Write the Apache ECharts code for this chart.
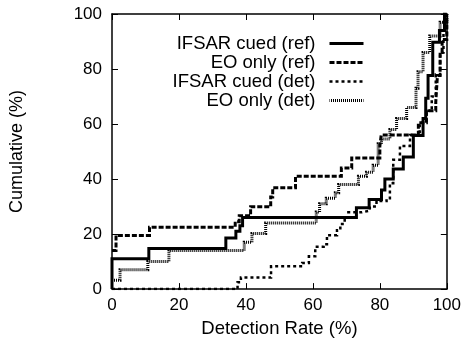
<!DOCTYPE html>
<html>
<head>
<meta charset="utf-8">
<script src="https://cdn.jsdelivr.net/npm/echarts@6/dist/echarts.min.js"></script>
<style>
html,body{margin:0;padding:0;background:#fff;}
#chart{width:464px;height:343px;}
</style>
</head>
<body>
<div id="chart"></div>
<script>
// Data (x = detection rate %, y = cumulative %)
var seriesNames = ['IFSAR cued (ref)', 'EO only (ref)', 'IFSAR cued (det)', 'EO only (det)'];
var xTicks = [0, 20, 40, 60, 80, 100];
var yTicks = [0, 20, 40, 60, 80, 100];

var ifsarRef = [[0,0],[0,11],[11,14.8],[34,18.6],[37,21],[38.2,23],[39,26],[73,29.6],[76.8,32.6],[80.5,36],[81.5,40],[84,43.7],[87,48],[90,55.8],[92.9,62],[93.7,69.4],[94.4,77.6],[95.8,89.7],[97.8,94],[99.3,100],[100,100]];

var eoRef = [[0,14],[1.2,19.5],[11.2,22.5],[36.8,24.5],[38,26.7],[41.4,29.9],[47.4,33.5],[48,36.8],[54.8,41],[68.5,44],[71.6,47.7],[80,52],[80.4,56],[91.5,60.5],[93.9,64.8],[96.7,68],[97.2,77.6],[98,86],[98.6,90.7],[100,100]];

var ifsarDet = [[0,0],[37.5,2.5],[38.5,4.2],[47.5,8.3],[56.8,9.5],[58.8,11.9],[60.7,15.4],[63.2,16.3],[64.2,19.6],[67.2,21.4],[68.2,23.7],[69.5,26],[70.6,27.9],[74.6,28.5],[77,30],[79,32],[82,33],[83,38.5],[84,47],[86,52],[89,56],[91.9,60.5],[93.9,64.8],[95.5,70],[96.7,78],[98,86],[99,93],[100,100]];

var eoDet = [[0,3.2],[2.4,7],[10.7,10],[17,14],[39.5,17],[41.8,20.2],[45.9,24],[61,28],[62,31],[64,33],[66.7,35],[67.7,38],[73.6,41],[76,42.5],[78,45],[79.5,52.8],[80.5,54.6],[83,58],[85,62],[88,66],[90.8,73],[91.4,79],[92.9,86],[94.9,92],[98,97],[100,100]];

var FONT = 'Liberation Sans, Arial, Helvetica, sans-serif';
var chart = echarts.init(document.getElementById('chart'), null, {renderer: 'canvas'});

function axisCommon(showLabel) {
  return {
    type: 'value', min: 0, max: 100, interval: 20,
    axisLine: {show: true, onZero: false, lineStyle: {color: '#000', width: 1.5}},
    axisTick: {show: true, inside: true, length: 6, lineStyle: {color: '#000', width: 1}},
    axisLabel: {show: showLabel, color: '#000', fontSize: 17, fontFamily: FONT},
    splitLine: {show: false}
  };
}

var xBottom = axisCommon(true);
xBottom.position = 'bottom';
xBottom.name = 'Detection Rate (%)';
xBottom.nameLocation = 'middle';
xBottom.nameGap = 27;
xBottom.nameTextStyle = {color: '#000', fontSize: 18.5, fontFamily: FONT};
xBottom.axisLabel.margin = 8;
xBottom.axisLabel.formatter = function (v) { return xTicks.indexOf(v) >= 0 ? String(v) : ''; };

var xTop = axisCommon(false);
xTop.position = 'top';

var yLeft = axisCommon(true);
yLeft.position = 'left';
yLeft.name = 'Cumulative (%)';
yLeft.nameLocation = 'middle';
yLeft.nameGap = 86;
yLeft.nameRotate = 90;
yLeft.nameTextStyle = {color: '#000', fontSize: 18, fontFamily: FONT};
yLeft.axisLabel.margin = 10;
yLeft.axisLabel.formatter = function (v) { return yTicks.indexOf(v) >= 0 ? String(v) : ''; };

var yRight = axisCommon(false);
yRight.position = 'right';

var styles = [
  {width: 3, type: 'solid'},
  {width: 3, type: [5, 2]},
  {width: 2.5, type: [3, 3]},
  {width: 3, type: [1, 1]}
];
var datas = [ifsarRef, eoRef, ifsarDet, eoDet];

var series = datas.map(function (d, i) {
  return {
    name: seriesNames[i],
    type: 'line',
    step: 'end',
    data: d,
    xAxisIndex: 0,
    yAxisIndex: 0,
    symbol: 'none',
    showSymbol: false,
    animation: false,
    itemStyle: {color: '#000', opacity: 0},
    lineStyle: {color: '#000', width: styles[i].width, type: styles[i].type, cap: 'butt', join: 'miter'}
  };
});

var legendData = seriesNames.map(function (n, i) {
  return {name: n, lineStyle: {width: styles[i].width, type: styles[i].type, color: '#000', dashOffset: i === 3 ? 0.5 : 0}};
});

chart.setOption({
  backgroundColor: '#fff',
  animation: false,
  grid: {left: 112, right: 15, top: 14, bottom: 48, containLabel: false},
  xAxis: [xBottom, xTop],
  yAxis: [yLeft, yRight],
  legend: {
    data: legendData,
    orient: 'vertical',
    right: 99,
    top: 34,
    align: 'right',
    itemWidth: 34,
    itemHeight: 14,
    itemGap: 0,
    itemStyle: {opacity: 0},
    textStyle: {color: '#000', fontSize: 18.5, fontFamily: FONT, lineHeight: 18.7, padding: [0, 9, 0, 0]},
    inactiveColor: '#000',
    selectedMode: false,
    padding: 0
  },
  series: series
});
</script>
</body>
</html>
